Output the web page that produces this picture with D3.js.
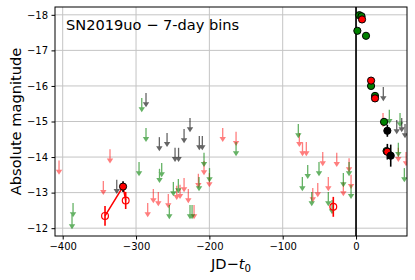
<!DOCTYPE html>
<html><head><meta charset="utf-8">
<script src="https://cdn.jsdelivr.net/npm/d3@7"></script>
<style>
html,body{margin:0;padding:0;background:#fff;}
svg{display:block;font-family:"DejaVu Sans",sans-serif;}
</style></head>
<body><svg id="c" width="415" height="280"></svg>
<script>
// ---- data ----
const xTicks = [-400, -300, -200, -100, 0];
const yTicks = [-12, -13, -14, -15, -16, -17, -18];
const titleText = "SN2019uo \u2212 7-day bins";

// upper limits [JD - t0, magnitude]
const redLimits = [[-405.0,-13.90],[-335.5,-14.22],[-344.6,-13.33],[-284.1,-12.71],[-276.4,-13.10],
  [-269.6,-13.02],[-256.0,-12.96],[-244.5,-13.19],[-240.0,-13.22],[-234.5,-13.41],[-228.7,-13.10],
  [-220.9,-12.65],[-215.0,-13.53],[-207.3,-13.89],[-200.0,-13.55],[-181.8,-14.82],[-163.6,-14.71],
  [-77.3,-14.68],[-73.0,-14.42],[-67.8,-14.42],[-45.4,-14.14],[-26.3,-14.12],[-9.5,-13.97],
  [-59.0,-13.13],[-52.2,-13.27],[-37.8,-13.44],[-17.3,-13.30],[-6.8,-13.50],[36.8,-15.24],
  [57.7,-14.26],[68.2,-14.14]];
const greenLimits = [[-385.9,-12.71],[-387.3,-12.37],[-292.2,-15.66],[-286.4,-14.82],[-295.9,-13.86],
  [-265.0,-13.83],[-268.0,-13.67],[-249.1,-13.30],[-242.3,-13.38],[-254.6,-12.65],[-226.4,-12.65],
  [-223.6,-12.65],[-214.1,-13.44],[-207.3,-14.12],[-199.8,-13.69],[-163.6,-14.42],[-78.7,-14.93],
  [-65.9,-13.78],[-50.5,-13.86],[-73.2,-13.44],[-60.4,-13.02],[-37.8,-13.02],[-17.3,-13.55],
  [-9.5,-13.86],[-6.8,-13.22],[-32.7,-12.79],[45.4,-15.33],[60.0,-15.24],[57.7,-14.40],[65.9,-13.69]];
const greyLimits = [[-326.3,-13.36],[-286.4,-15.80],[-268.2,-14.56],[-257.7,-14.68],[-246.8,-14.26],
  [-242.0,-14.26],[-234.5,-14.79],[-226.4,-15.10],[-213.7,-14.59],[-209.6,-14.59],[37.2,-15.97],
  [55.5,-15.04],[62.3,-15.10],[66.8,-14.93]];

// detections [JD - t0, magnitude, error]
const greenDet = [[4.5,-17.99,0.05],[7.5,-17.96,0.05],[1.8,-17.55,0.05],[13.6,-17.41,0.05],
  [20.5,-16.00,0.05],[25.9,-15.72,0.05],[38.2,-14.99,0.06],[41.6,-14.17,0.08]];
const redDet = [[8.2,-17.87,0.05],[20.5,-16.15,0.05],[25.9,-15.65,0.06],[42.7,-14.15,0.22],[-317.7,-13.17,0.15]];
const blackDet = [[42.7,-14.74,0.17],[47.3,-14.04,0.31]];
const openRed = [[-342.3,-12.345,0.28],[-314.1,-12.78,0.24],[-31.0,-12.60,0.28]];
const redLine = [[-342.3,-12.345],[-317.7,-13.17],[-314.1,-12.78]];

// ---- layout ----
const L = 55, T = 7, W = 352, H = 229;
const svg = d3.select("#c");
const x = d3.scaleLinear().domain([-410.5, 69.5]).range([L, L + W]);
const y = d3.scaleLinear().domain([-11.78, -18.22]).range([T + H, T]);

// grid
const g = svg.append("g");
g.selectAll(".gx").data(xTicks).join("line")
  .attr("x1", d => x(d)).attr("x2", d => x(d)).attr("y1", T).attr("y2", T + H)
  .attr("stroke", "#c4c4c4").attr("stroke-width", 1);
g.selectAll(".gy").data(yTicks).join("line")
  .attr("y1", d => y(d)).attr("y2", d => y(d)).attr("x1", L).attr("x2", L + W)
  .attr("stroke", "#c4c4c4").attr("stroke-width", 1);

// vertical line at t0
svg.append("line").attr("x1", x(0)).attr("x2", x(0)).attr("y1", T).attr("y2", T + H)
  .attr("stroke", "#111").attr("stroke-width", 1.8);

const clip = svg.append("clipPath").attr("id", "pc").append("rect")
  .attr("x", L).attr("y", T).attr("width", W).attr("height", H);
const plot = svg.append("g").attr("clip-path", "url(#pc)");

function arrows(data, color, op) {
  const gg = plot.append("g").attr("opacity", op);
  data.forEach(d => {
    const px = x(d[0]), y0 = y(d[1]), y1 = y(d[1] + 0.4);
    gg.append("line").attr("x1", px).attr("x2", px).attr("y1", y0).attr("y2", y1 - 2)
      .attr("stroke", color).attr("stroke-width", 1.3);
    gg.append("path").attr("d", `M${px - 3.2},${y1 - 5} L${px + 3.2},${y1 - 5} L${px},${y1} Z`)
      .attr("fill", color);
  });
}
arrows(redLimits, "#ff0000", 0.5);
arrows(greenLimits, "#008000", 0.6);
arrows(greyLimits, "#000000", 0.6);

// red line
plot.append("path").datum(redLine)
  .attr("d", d3.line().x(d => x(d[0])).y(d => y(d[1])))
  .attr("fill", "none").attr("stroke", "red").attr("stroke-width", 1.5);

function errbars(data, color, w) {
  plot.selectAll(null).data(data).join("line")
    .attr("x1", d => x(d[0])).attr("x2", d => x(d[0]))
    .attr("y1", d => y(d[1] - d[2])).attr("y2", d => y(d[1] + d[2]))
    .attr("stroke", color).attr("stroke-width", w);
}
errbars(openRed, "red", 1.6);
plot.selectAll(null).data(openRed).join("circle")
  .attr("cx", d => x(d[0])).attr("cy", d => y(d[1])).attr("r", 3.4)
  .attr("fill", "none").attr("stroke", "red").attr("stroke-width", 1.2);

function dets(data, fill) {
  errbars(data, "#000", 1.6);
  plot.selectAll(null).data(data).join("circle")
    .attr("cx", d => x(d[0])).attr("cy", d => y(d[1])).attr("r", 3.6)
    .attr("fill", fill).attr("stroke", "#000").attr("stroke-width", 1);
}
dets(greenDet, "#008000");
dets(redDet, "#ff0000");
dets(blackDet, "#000000");

// frame
svg.append("rect").attr("x", L).attr("y", T).attr("width", W).attr("height", H)
  .attr("fill", "none").attr("stroke", "#000").attr("stroke-width", 1);

// axes
const fmt = d => (d < 0 ? "\u2212" : "") + Math.abs(d);
const xa = svg.append("g").attr("transform", `translate(0,${T + H})`)
  .call(d3.axisBottom(x).tickValues(xTicks).tickFormat(fmt).tickSize(3.5).tickPadding(3.5));
const ya = svg.append("g").attr("transform", `translate(${L},0)`)
  .call(d3.axisLeft(y).tickValues(yTicks).tickFormat(fmt).tickSize(3.5).tickPadding(3.5));
[xa, ya].forEach(a => {
  a.select(".domain").remove();
  a.selectAll("text").attr("font-family", "DejaVu Sans").attr("font-size", 10).attr("fill", "#000");
  a.selectAll("line").attr("stroke", "#000");
});

// title text
svg.append("text").attr("x", 66).attr("y", 29.5).attr("font-size", 14.6).attr("fill", "#000")
  .text(titleText);

// axis labels
svg.append("text").attr("transform", `translate(21,${T + H / 2}) rotate(-90)`)
  .attr("text-anchor", "middle").attr("font-size", 14.6).attr("fill", "#000")
  .text("Absolute magnitude");
const xl = svg.append("text").attr("x", L + W / 2).attr("y", 269).attr("text-anchor", "middle")
  .attr("font-size", 14.6).attr("fill", "#000");
xl.append("tspan").text("JD\u2212");
xl.append("tspan").attr("font-style", "italic").text("t");
xl.append("tspan").attr("font-size", 10.2).attr("dy", 2.5).text("0");
</script></body></html>
